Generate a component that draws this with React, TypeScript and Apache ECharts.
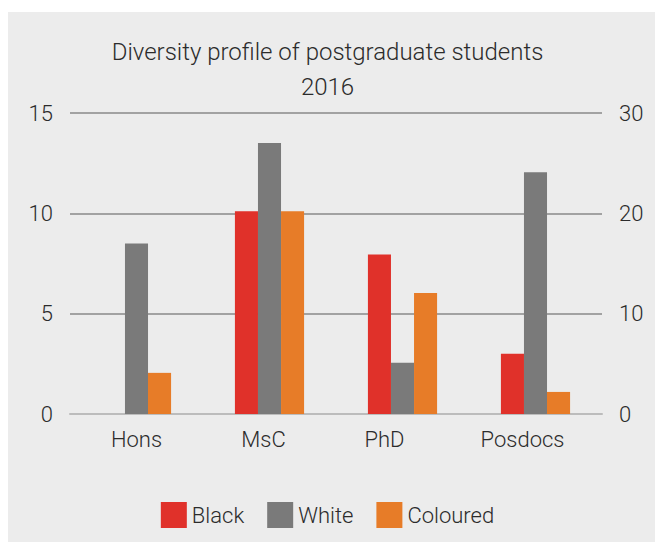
import React, { useEffect, useRef } from "react";
import * as echarts from "echarts";

const categories = ["Hons", "MsC", "PhD", "Posdocs"];
const blackValues = [0, 10.1, 7.95, 3];
const whiteValues = [8.5, 13.5, 2.55, 12.05];
const colouredValues = [2.05, 10.1, 6.03, 1.1];
const leftTicks = { min: 0, max: 15, interval: 5 };
const rightTicks = { min: 0, max: 30, interval: 10 };

const FONT = "Roboto, 'Noto Sans', sans-serif";
const TEXT = "#2b2b2b";
// horizontal shift (px, leftwards) of each category label as in the reference
const labelShift: Record<string, number> = { Hons: 0, MsC: 6, PhD: 18, Posdocs: 13 };

export default function App() {
  const ref = useRef<HTMLDivElement>(null);
  useEffect(() => {
    document.body.style.margin = "0";
    const chart = echarts.init(ref.current!, null, { renderer: "svg" });
    const label = { color: TEXT, fontFamily: FONT, fontSize: 22, fontWeight: 300 };
    const rich: Record<string, any> = {};
    categories.forEach((c, i) => {
      rich["c" + i] = { ...label, padding: [0, 2 * (labelShift[c] || 0), 0, 0] };
    });
    chart.setOption({
      animation: false,
      backgroundColor: "#ffffff",
      textStyle: { fontFamily: FONT, fontWeight: 300 },
      graphic: [
        {
          type: "rect",
          z: -10,
          silent: true,
          shape: { x: 8, y: 12, width: 647, height: 530 },
          style: { fill: "#ececec" },
        },
      ],
      title: {
        text: "Diversity profile of postgraduate students\n2016",
        left: "center",
        top: 29,
        textStyle: { ...label, fontSize: 24, lineHeight: 35 },
      },
      legend: {
        bottom: 10,
        left: "center",
        itemWidth: 26,
        itemHeight: 26,
        itemGap: 23,
        icon: "rect",
        textStyle: { ...label, padding: [0, 0, 0, 0] },
        data: ["Black", "White", "Coloured"],
      },
      grid: { left: 70, right: 53, top: 113, bottom: 129 },
      xAxis: {
        type: "category",
        data: categories,
        axisTick: { show: false },
        axisLine: { lineStyle: { color: "#bcbcbc", width: 2 } },
        axisLabel: {
          ...label,
          margin: 14,
          interval: 0,
          hideOverlap: false,
          formatter: (v: string) => `{c${categories.indexOf(v)}|${v}}`,
          rich,
        },
      },
      yAxis: [
        {
          type: "value",
          ...leftTicks,
          axisLine: { show: false },
          axisTick: { show: false },
          axisLabel: { ...label, margin: 17 },
          splitLine: { lineStyle: { color: "#8a8a8a", width: 1.5 } },
        },
        {
          type: "value",
          ...rightTicks,
          axisLine: { show: false },
          axisTick: { show: false },
          axisLabel: { ...label, margin: 17 },
          splitLine: { show: false },
        },
      ],
      series: [
        { name: "Black", type: "bar", data: blackValues, itemStyle: { color: "#e0312a" }, barGap: "0%", barCategoryGap: "48%" },
        { name: "White", type: "bar", data: whiteValues, itemStyle: { color: "#7a7a7a" }, barGap: "0%", barCategoryGap: "48%" },
        { name: "Coloured", type: "bar", data: colouredValues, itemStyle: { color: "#e77c28" }, barGap: "0%", barCategoryGap: "48%" },
      ],
    });
    return () => chart.dispose();
  }, []);
  return <div ref={ref} style={{ width: 655, height: 543 }} />;
}
